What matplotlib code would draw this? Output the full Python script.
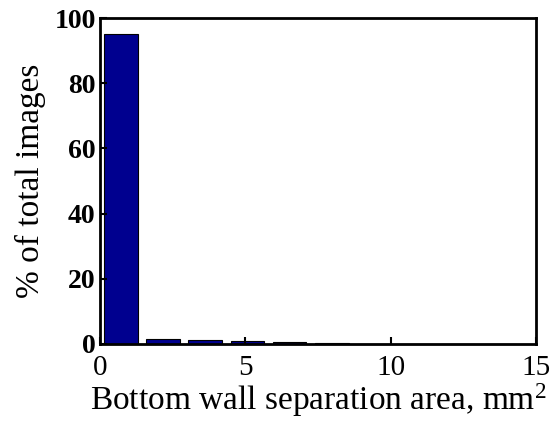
import numpy as np
import matplotlib
matplotlib.use("Agg")
import matplotlib.pyplot as plt

# histogram bins (MATLAB style hist, 10 bins)
bin_centers = [0.725, 2.175, 3.625, 5.075, 6.525, 7.975, 9.425, 10.875, 12.325, 13.775]
percent = [95.0, 1.5, 1.3, 1.0, 0.5, 0.2, 0.1, 0.1, 0.05, 0.1]
x_ticks = [0, 5, 10, 15]
y_ticks = [0, 20, 40, 60, 80, 100]

plt.rcParams["font.family"] = ["Liberation Serif", "DejaVu Serif"]
plt.rcParams["mathtext.fontset"] = "custom"
plt.rcParams["mathtext.rm"] = "Liberation Serif"
plt.rcParams["mathtext.it"] = "Liberation Serif:italic"

fig = plt.figure(figsize=(5.52, 4.21), dpi=100)
ax = fig.add_axes([0.181, 0.183, 0.79, 0.774])

ax.bar(bin_centers, percent, width=1.16, color="#00008f", edgecolor="black", linewidth=0.8)

ax.set_xlim(0, 15)
ax.set_ylim(0, 100)
ax.set_xticks(x_ticks)
ax.set_yticks(y_ticks)
ax.tick_params(direction="in", width=1.5, length=5, top=False, right=False)
ax.tick_params(axis="x", labelsize=21, pad=8)
ax.tick_params(axis="y", labelsize=20, pad=3)
for lab in ax.get_yticklabels():
	lab.set_fontweight("bold")
for s in ax.spines.values():
	s.set_linewidth(2)

ax.set_xlabel("Bottom wall separation area, mm$^{\\mathrm{2}}$", fontsize=24, labelpad=0)
ax.set_ylabel("% of total images", fontsize=24, labelpad=6)

fig.savefig("out.png", dpi=100)
